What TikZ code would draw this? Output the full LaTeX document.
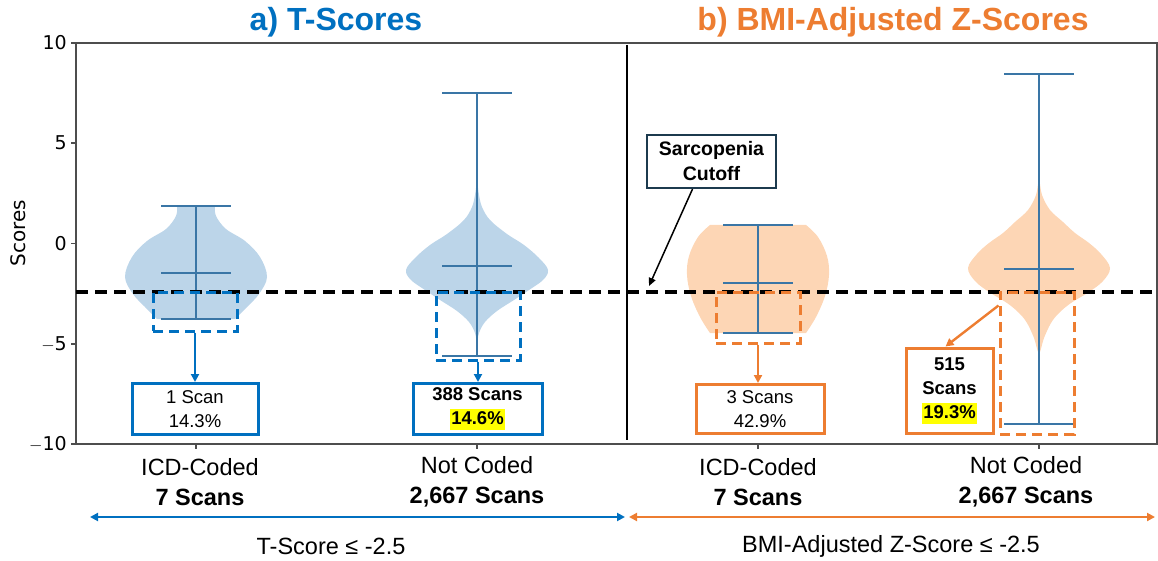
\documentclass[tikz,border=0pt]{standalone}
\usepackage{fontspec}
\setmainfont{Liberation Sans}
\newfontfamily\tickfont{DejaVu Sans}
\usetikzlibrary{arrows.meta}
\definecolor{ablue}{HTML}{0070C0}
\definecolor{borange}{HTML}{ED7D31}
\definecolor{vblue}{HTML}{BCD5E9}
\definecolor{vorange}{HTML}{FDD6B5}
\definecolor{whisk}{HTML}{3A76A6}
\definecolor{framegray}{HTML}{4D4D4D}
\definecolor{navy}{HTML}{1C3A4E}
\definecolor{hlyellow}{HTML}{FFFF00}
\newcommand\hlbox[1]{{\setlength\fboxsep{1.5pt}\colorbox{hlyellow}{\rule[-4pt]{0pt}{18pt}#1}}}

\begin{document}
\begin{tikzpicture}[x=1pt,y=-1pt,
  frameline/.style={draw=framegray, line width=1.2pt},
  whisker/.style={draw=whisk, line width=2pt},
  cutline/.style={draw=black, line width=3.2pt, dash pattern=on 12pt off 7pt},
  selbox/.style={line width=3pt, dash pattern=on 10pt off 6pt, inner sep=0pt},
  countbox/.style={draw, fill=white, line width=3pt, inner sep=0pt, align=center,
    font=\fontsize{18.5}{24}\selectfont},
  pointer/.style={line width=2.4pt, -{Triangle[length=8pt,width=8pt]}},
  span/.style={line width=2.4pt, {Triangle[length=8pt,width=8pt]}-{Triangle[length=8pt,width=8pt]}},
  ticklab/.style={font=\tickfont\fontsize{19}{22}\selectfont, anchor=east, inner sep=0pt},
  catlab/.style={align=center, font=\fontsize{23.5}{30}\selectfont},
  paneltitle/.style={font=\fontsize{32}{36}\selectfont\bfseries}
]
\useasboundingbox (0,0) rectangle (1158,561);

% panel titles
\node[paneltitle, text=ablue] (ta) at (336,22) {a) T-Scores};
\node[paneltitle, text=borange] (tb) at (893,22) {b) BMI-Adjusted Z-Scores};

% violins
\begin{scope}[shift={(196,0)}]
  \fill[vblue] plot[smooth, tension=0.6] coordinates {(19,206) (20,216) (30,229) (49,241) (64,257) (71,277) (63,294) (51,307) (39,319)}
    -- plot[smooth, tension=0.6] coordinates {(-39,319) (-51,307) (-63,294) (-71,277) (-64,257) (-49,241) (-30,229) (-20,216) (-19,206)} -- cycle;
\end{scope}
\begin{scope}[shift={(477,0)}]
  \fill[vblue] plot[smooth cycle, tension=0.6] coordinates {(0,183) (2,195) (5,207) (13,220) (30,234) (47,245) (62,258) (71,270) (66,280) (52,290) (37,300) (20,311) (8,322) (2,333) (0,343)
    (-2,333) (-8,322) (-20,311) (-37,300) (-52,290) (-66,280) (-71,270) (-62,258) (-47,245) (-30,234) (-13,220) (-5,207) (-2,195)};
\end{scope}
\begin{scope}[shift={(758,0)}]
  \fill[vorange] plot[smooth, tension=0.6] coordinates {(48,225) (60,237) (69,256) (71,275) (67,296) (58,317) (48,333)}
    -- plot[smooth, tension=0.6] coordinates {(-48,333) (-58,317) (-67,296) (-71,275) (-69,256) (-60,237) (-48,225)} -- cycle;
\end{scope}
\begin{scope}[shift={(1039,0)}]
  \fill[vorange] plot[smooth cycle, tension=0.6] coordinates {(0,180) (3,195) (11,210) (24,222) (36,233) (50,243) (62,254) (71,268) (64,281) (50,292) (32,303) (20,313) (12,323) (5,338) (0,353)
    (-5,338) (-12,323) (-20,313) (-32,303) (-50,292) (-64,281) (-71,268) (-62,254) (-50,243) (-36,233) (-24,222) (-11,210) (-3,195)};
\end{scope}

% whiskers: extremes and means
\foreach \cx/\top/\mid/\bot in {196/206/273/319, 477/93/266/356, 758/225/283/333, 1039/74/269/424}{
  \draw[whisker] (\cx,\top) -- (\cx,\bot);
  \draw[whisker] (\cx-35,\top) -- (\cx+35,\top);
  \draw[whisker] (\cx-35,\mid) -- (\cx+35,\mid);
  \draw[whisker] (\cx-35,\bot) -- (\cx+35,\bot);
}

% axes frame and ticks
\draw[frameline] (76,43) rectangle (1157,444);
\foreach \yy/\lab in {43/10, 143/5, 243.5/0, 344/$-$5, 444/$-$10}{
  \draw[frameline] (71,\yy) -- (76,\yy);
  \node[ticklab] at (67,\yy) {\lab};
}
\foreach \cx in {196,477,758,1039}{
  \draw[frameline] (\cx,444) -- (\cx,449);
}
\node[rotate=90, font=\tickfont\fontsize{20}{22}\selectfont] (ylab) at (18,233) {Scores};

% panel divider
\draw[black, line width=2.6pt] (627,45) -- (627,440);

% sarcopenia cutoff
\coordinate (cl) at (76,292);
\coordinate (cr) at (1157,292);
\draw[cutline] (cl) -- (cr);

% selected regions below the cutoff
\node[selbox, draw=ablue, minimum width=84pt, minimum height=39pt] (r1) at (195,311.5) {};
\node[selbox, draw=ablue, minimum width=84pt, minimum height=68pt] (r2) at (478,326) {};
\node[selbox, draw=borange, minimum width=84pt, minimum height=51pt] (r3) at (758,317.5) {};
\node[selbox, draw=borange, minimum width=74pt, minimum height=142pt] (r4) at (1037,363) {};

% counts
\node[countbox, draw=ablue, minimum width=126pt, minimum height=51pt] (b1) at (195,409) {1 Scan\\14.3\%};
\node[countbox, draw=ablue, minimum width=129pt, minimum height=51pt] (b2) at (477.5,409) {\textbf{388 Scans}\\\hlbox{\textbf{14.6\%}}};
\node[countbox, draw=borange, minimum width=128pt, minimum height=49pt] (b3) at (760,409) {3 Scans\\42.9\%};
\node[countbox, draw=borange, minimum width=87pt, minimum height=85pt] (b4) at (949.5,390.5) {\textbf{515}\\\textbf{Scans}\\\hlbox{\textbf{19.3\%}}};

\draw[pointer, ablue] (r1.south) -- (r1.south |- b1.north);
\draw[pointer, ablue] (r2.south) -- (r2.south |- b2.north);
\draw[pointer, borange] (r3.south) -- (r3.south |- b3.north);
\draw[pointer, borange] ([yshift=-15pt]r4.north west) -- ([xshift=-4pt]b4.north);

% cutoff callout
\node[draw=navy, line width=2.2pt, fill=white, minimum width=129pt, minimum height=53pt, align=center,
  font=\fontsize{19.5}{25}\selectfont\bfseries] (cut) at (711.5,161.5) {Sarcopenia\\Cutoff};
\coordinate (cutpt) at (649,286);
\draw[line width=1.5pt, -{Triangle[length=8pt,width=7pt]}] ([xshift=-19pt]cut.south) -- (cutpt);

% category labels
\node[catlab] (c1) at (200,482) {ICD-Coded\\\textbf{7 Scans}};
\node[catlab] (c2) at (477,482) {Not Coded\\\textbf{2,667 Scans}};
\node[catlab] (c3) at (758,482) {ICD-Coded\\\textbf{7 Scans}};
\node[catlab] (c4) at (1026,482) {Not Coded\\\textbf{2,667 Scans}};

% threshold spans
\coordinate (sa1) at (90,517);
\coordinate (sa2) at (625,517);
\coordinate (sb1) at (629,517);
\coordinate (sb2) at (1155,517);
\draw[span, ablue] (sa1) -- (sa2);
\draw[span, borange] (sb1) -- (sb2);
\node[font=\fontsize{23.5}{28}\selectfont] (la) at (331,546) {T-Score ≤ -2.5};
\node[font=\fontsize{23.5}{28}\selectfont] (lb) at (891,546) {BMI-Adjusted Z-Score ≤ -2.5};
\end{tikzpicture}
\end{document}
